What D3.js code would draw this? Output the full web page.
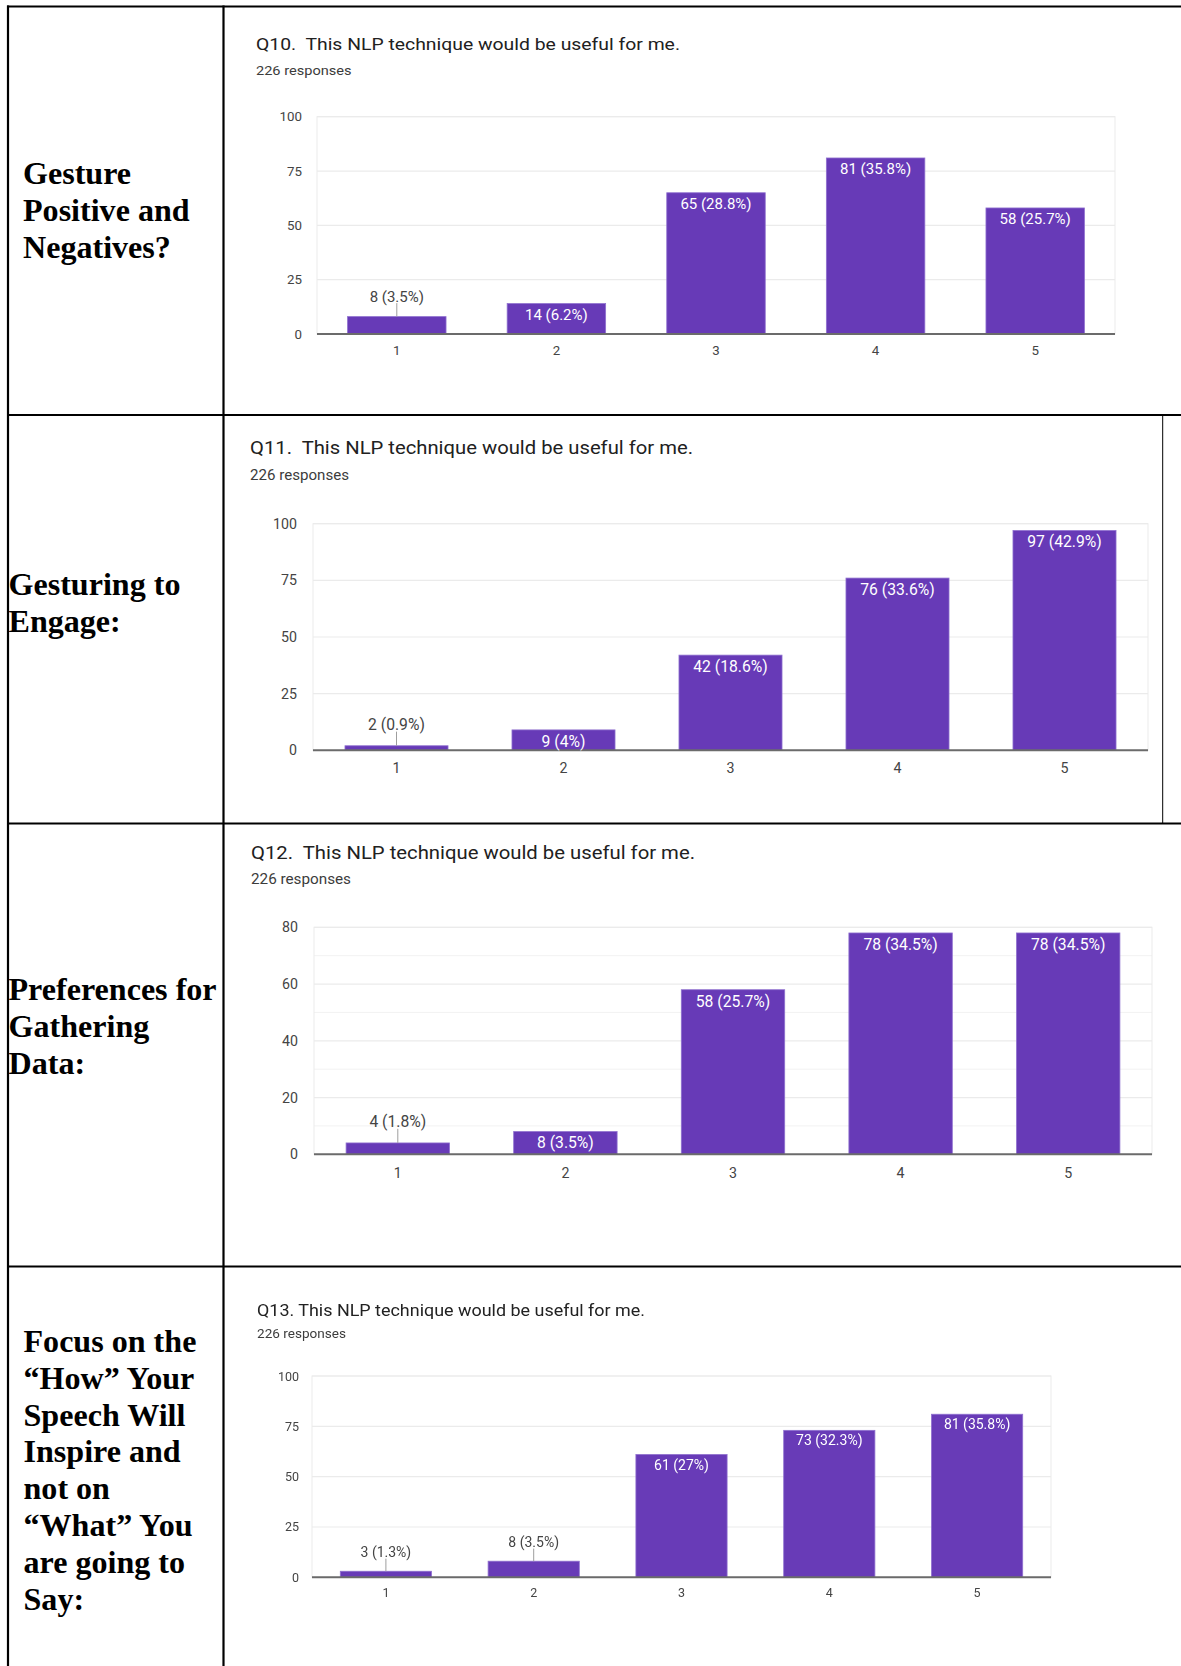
<!DOCTYPE html>
<html>
<head>
<meta charset="utf-8">
<script src="https://cdn.jsdelivr.net/npm/d3@7"></script>
<style>
  html, body { margin: 0; padding: 0; background: #ffffff; }
  svg { display: block; }
</style>
</head>
<body>
<svg id="page" width="1181" height="1666"></svg>
<script>
// ---- Survey data -------------------------------------------------------
const categories = ["1", "2", "3", "4", "5"];
const responsesLabel = "226 responses";

const q10Title = "Q10.  This NLP technique would be useful for me.";
const q10Counts = [8, 14, 65, 81, 58];
const q10Percents = ["3.5%", "6.2%", "28.8%", "35.8%", "25.7%"];
const q10Ticks = [0, 25, 50, 75, 100];

const q11Title = "Q11.  This NLP technique would be useful for me.";
const q11Counts = [2, 9, 42, 76, 97];
const q11Percents = ["0.9%", "4%", "18.6%", "33.6%", "42.9%"];
const q11Ticks = [0, 25, 50, 75, 100];

const q12Title = "Q12.  This NLP technique would be useful for me.";
const q12Counts = [4, 8, 58, 78, 78];
const q12Percents = ["1.8%", "3.5%", "25.7%", "34.5%", "34.5%"];
const q12Ticks = [0, 20, 40, 60, 80];

const q13Title = "Q13. This NLP technique would be useful for me.";
const q13Counts = [3, 8, 61, 73, 81];
const q13Percents = ["1.3%", "3.5%", "27%", "32.3%", "35.8%"];
const q13Ticks = [0, 25, 50, 75, 100];

const rowHeadings = [
  ["Gesture", "Positive and", "Negatives?"],
  ["Gesturing to", "Engage:"],
  ["Preferences for", "Gathering", "Data:"],
  ["Focus on the", "\u201CHow\u201D Your", "Speech Will", "Inspire and", "not on",
   "\u201CWhat\u201D You", "are going to", "Say:"]
];

// ---- Layout of each table row -------------------------------------------
const rows = [
  { title: q10Title, counts: q10Counts, percents: q10Percents, ticks: q10Ticks,
    titleBox: { x: 256, cy: 43.5, w: 424, fs: 17.3 },
    subBox: { cy: 70.5, w: 95.5, fs: 13.5 },
    plot: { l: 317, r: 1115, t: 116.7, b: 334 },
    tickFs: 13.3, tickRight: 302, xLabelCy: 350.7, barFs: 15,
    heading: { x: 23, y0: 184, dy: 37 } },
  { title: q11Title, counts: q11Counts, percents: q11Percents, ticks: q11Ticks,
    titleBox: { x: 250, cy: 447.7, w: 443, fs: 18 },
    subBox: { cy: 475, w: 99, fs: 14 },
    plot: { l: 313, r: 1148, t: 523.7, b: 750.3 },
    tickFs: 14.2, tickRight: 297, xLabelCy: 768.3, barFs: 15.7,
    heading: { x: 8.5, y0: 595, dy: 36.5 } },
  { title: q12Title, counts: q12Counts, percents: q12Percents, ticks: q12Ticks,
    titleBox: { x: 251, cy: 852.3, w: 444, fs: 18 },
    subBox: { cy: 879, w: 100, fs: 14 },
    plot: { l: 314, r: 1152, t: 927.3, b: 1154.3 },
    tickFs: 14.2, tickRight: 298, xLabelCy: 1172.7, barFs: 15.7, minorGrid: true,
    heading: { x: 8.5, y0: 1000, dy: 37 } },
  { title: q13Title, counts: q13Counts, percents: q13Percents, ticks: q13Ticks,
    titleBox: { x: 257, cy: 1310, w: 388, fs: 16 },
    subBox: { cy: 1333.3, w: 89, fs: 12.5 },
    plot: { l: 312, r: 1051, t: 1376, b: 1577.3 },
    tickFs: 12.5, tickRight: 299, xLabelCy: 1592.7, barFs: 14, soft: true,
    heading: { x: 23.5, y0: 1351.7, dy: 36.9 } }
];

const BAR = "#673ab7";
const GRID = "#ebebeb";
const svg = d3.select("#page");

const defs = svg.append("defs");
defs.append("filter").attr("id", "soften")
  .append("feGaussianBlur").attr("stdDeviation", 0.35);

// ---- Table rules --------------------------------------------------------
const table = svg.append("g").attr("class", "table");
const hLines = [6.5, 415, 823.5, 1266.5];
table.selectAll("line.h").data(hLines).join("line")
  .attr("class", "h")
  .attr("x1", 7).attr("x2", 1181)
  .attr("y1", d => d).attr("y2", d => d)
  .attr("stroke", "#000").attr("stroke-width", 2.2);
table.selectAll("line.v").data([8, 223.5]).join("line")
  .attr("class", "v")
  .attr("x1", d => d).attr("x2", d => d)
  .attr("y1", 5.4).attr("y2", 1666)
  .attr("stroke", "#000").attr("stroke-width", 2.2);
// thin right edge of the second row
table.append("line")
  .attr("x1", 1162.7).attr("x2", 1162.7).attr("y1", 415).attr("y2", 823.5)
  .attr("stroke", "#000").attr("stroke-width", 1);

// ---- Row headings -------------------------------------------------------
rows.forEach((row, i) => {
  const t = svg.append("text")
    .attr("font-family", "'Liberation Serif', 'Times New Roman', serif")
    .attr("font-weight", "bold")
    .attr("font-size", 32.1)
    .attr("fill", "#000");
  t.selectAll("tspan").data(rowHeadings[i]).join("tspan")
    .attr("x", row.heading.x)
    .attr("y", (d, k) => row.heading.y0 + k * row.heading.dy)
    .text(d => d);
});

// ---- Charts -------------------------------------------------------------
rows.forEach(row => {
  const g = svg.append("g").attr("class", "chart");
  if (row.soft) g.attr("filter", "url(#soften)");
  const p = row.plot;
  const maxY = d3.max(row.ticks);

  const x = d3.scaleBand().domain(categories).range([p.l, p.r])
    .paddingInner(0.383).paddingOuter(0.1915);
  const y = d3.scaleLinear().domain([0, maxY]).range([p.b, p.t]);

  // title + response count
  g.append("text")
    .attr("x", row.titleBox.x)
    .attr("y", row.titleBox.cy + 0.355 * row.titleBox.fs)
    .attr("font-family", "Roboto, 'Noto Sans', sans-serif")
    .attr("font-size", row.titleBox.fs)
    .attr("fill", "#212121")
    .attr("textLength", row.titleBox.w)
    .attr("lengthAdjust", "spacingAndGlyphs")
    .style("white-space", "pre")
    .text(row.title);
  g.append("text")
    .attr("x", row.titleBox.x)
    .attr("y", row.subBox.cy + 0.355 * row.subBox.fs)
    .attr("font-family", "Roboto, 'Noto Sans', sans-serif")
    .attr("font-size", row.subBox.fs)
    .attr("fill", "#3c3c3c")
    .attr("textLength", row.subBox.w)
    .attr("lengthAdjust", "spacingAndGlyphs")
    .text(responsesLabel);

  // gridlines
  const minor = row.minorGrid ? y.ticks(8).filter(v => !row.ticks.includes(v)) : [];
  g.selectAll("line.minor").data(minor).join("line")
    .attr("class", "minor")
    .attr("x1", p.l).attr("x2", p.r)
    .attr("y1", d => y(d)).attr("y2", d => y(d))
    .attr("stroke", "#f2f2f2").attr("stroke-width", 1);
  g.selectAll("line.grid").data(row.ticks.filter(v => v > 0)).join("line")
    .attr("class", "grid")
    .attr("x1", p.l).attr("x2", p.r)
    .attr("y1", d => y(d)).attr("y2", d => y(d))
    .attr("stroke", GRID).attr("stroke-width", 1.2);
  // plot frame
  g.append("rect")
    .attr("x", p.l).attr("y", y(maxY))
    .attr("width", p.r - p.l).attr("height", y(0) - y(maxY))
    .attr("fill", "none").attr("stroke", GRID).attr("stroke-width", 1);

  // y axis labels
  const yAxis = g.append("g")
    .attr("transform", `translate(${row.tickRight},0)`)
    .call(d3.axisLeft(y).tickValues(row.ticks).tickSize(0).tickPadding(0));
  yAxis.select(".domain").remove();
  yAxis.selectAll("text")
    .attr("font-family", "Roboto, 'Noto Sans', sans-serif")
    .attr("font-size", row.tickFs)
    .attr("fill", "#444");

  // x axis labels
  const xPad = row.xLabelCy - p.b - 0.355 * row.tickFs;
  const xAxis = g.append("g")
    .attr("transform", `translate(0,${p.b})`)
    .call(d3.axisBottom(x).tickSize(0).tickPadding(xPad));
  xAxis.select(".domain").remove();
  xAxis.selectAll("text")
    .attr("font-family", "Roboto, 'Noto Sans', sans-serif")
    .attr("font-size", row.tickFs)
    .attr("fill", "#444");

  // bars
  const data = categories.map((c, i) => ({ c, v: row.counts[i], pct: row.percents[i] }));
  g.selectAll("rect.bar").data(data).join("rect")
    .attr("class", "bar")
    .attr("x", d => x(d.c))
    .attr("y", d => y(d.v))
    .attr("width", x.bandwidth())
    .attr("height", d => y(0) - y(d.v))
    .attr("fill", BAR)
    .attr("stroke", "#8f70cf").attr("stroke-width", 0.8);

  // baseline
  g.append("line")
    .attr("x1", p.l).attr("x2", p.r)
    .attr("y1", y(0)).attr("y2", y(0))
    .attr("stroke", "#6b6b6b").attr("stroke-width", 2);

  // value labels: inside the bar when it fits, otherwise above with a leader
  const fs = row.barFs;
  const fits = d => (y(0) - y(d.v)) >= fs * 1.25;
  const cx = d => x(d.c) + x.bandwidth() / 2;
  const outsideCy = d => y(d.v) - fs * 1.35;

  g.selectAll("line.leader").data(data.filter(d => !fits(d))).join("line")
    .attr("class", "leader")
    .attr("x1", cx).attr("x2", cx)
    .attr("y1", d => y(d.v))
    .attr("y2", d => outsideCy(d) + 0.45 * fs)
    .attr("stroke", "#9e9e9e").attr("stroke-width", 1);

  g.selectAll("text.val").data(data).join("text")
    .attr("class", "val")
    .attr("x", cx)
    .attr("y", d => fits(d)
      ? y(d.v) + 0.72 * fs + 0.355 * fs
      : outsideCy(d) + 0.355 * fs)
    .attr("text-anchor", "middle")
    .attr("font-family", "Roboto, 'Noto Sans', sans-serif")
    .attr("font-size", fs)
    .attr("fill", d => fits(d) ? "#ffffff" : "#444")
    .text(d => `${d.v} (${d.pct})`);
});
</script>
</body>
</html>
